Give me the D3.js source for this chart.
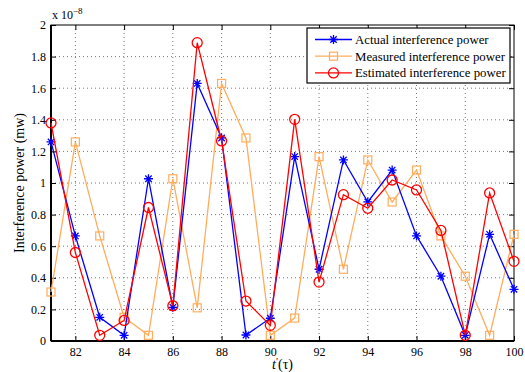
<!DOCTYPE html>
<html>
<head>
<meta charset="utf-8">
<script src="https://cdn.jsdelivr.net/npm/d3@7"></script>
<style>
  body { margin: 0; background: #fff; }
  svg { font-family: "Liberation Serif", "Times New Roman", serif; }
</style>
</head>
<body>
<div id="chart"></div>
<script>
// values in units of 1e-8 mw
const slots = d3.range(81, 101);
const actualPower = [1.26, 0.665, 0.15, 0.036, 1.027, 0.213, 1.63, 1.285, 0.038, 0.144,
  1.167, 0.454, 1.146, 0.88, 1.082, 0.665, 0.41, 0.036, 0.675, 0.327];
const measuredPower = [0.31, 1.26, 0.665, 0.15, 0.036, 1.027, 0.21, 1.63, 1.285, 0.036,
  0.145, 1.167, 0.454, 1.146, 0.88, 1.082, 0.665, 0.41, 0.036, 0.675];
const estimatedPower = [1.38, 0.56, 0.036, 0.13, 0.845, 0.223, 1.888, 1.266, 0.253, 0.099,
  1.403, 0.373, 0.926, 0.84, 1.019, 0.956, 0.70, 0.036, 0.937, 0.504];
const xTicks = [82, 84, 86, 88, 90, 92, 94, 96, 98, 100];
const yTicks = [0, 0.2, 0.4, 0.6, 0.8, 1, 1.2, 1.4, 1.6, 1.8, 2];

const seriesList = [
  { name: "Actual interference power", values: actualPower, color: "#0000ff", marker: "star" },
  { name: "Measured interference power", values: measuredPower, color: "#ffad5c", marker: "square" },
  { name: "Estimated interference power", values: estimatedPower, color: "#ff0000", marker: "circle" }
];

const W = 525, H = 372;
const margin = { top: 25, right: 11, bottom: 31, left: 51 };
const width = W - margin.left - margin.right;
const height = H - margin.top - margin.bottom;

const svg = d3.select("#chart").append("svg")
  .attr("width", W).attr("height", H);
const g = svg.append("g").attr("transform", `translate(${margin.left},${margin.top})`);

const x = d3.scaleLinear().domain([81, 100]).range([0, width]);
const y = d3.scaleLinear().domain([0, 2]).range([height, 0]);

// grid
g.selectAll(".vgrid").data(xTicks.filter(t => t < 100)).join("line")
  .attr("x1", d => x(d)).attr("x2", d => x(d)).attr("y1", 0).attr("y2", height)
  .attr("stroke", "#555").attr("stroke-width", 0.8).attr("stroke-dasharray", "1,3");
g.selectAll(".hgrid").data(yTicks.filter(t => t > 0 && t < 2)).join("line")
  .attr("x1", 0).attr("x2", width).attr("y1", d => y(d)).attr("y2", d => y(d))
  .attr("stroke", "#555").attr("stroke-width", 0.8).attr("stroke-dasharray", "1,3");

// axes with inward ticks
const fmtY = d => d3.format("~g")(d);
const axB = g.append("g").attr("transform", `translate(0,${height})`)
  .call(d3.axisBottom(x).tickValues(xTicks).tickSizeInner(-5).tickSizeOuter(0).tickPadding(6));
const axL = g.append("g")
  .call(d3.axisLeft(y).tickValues(yTicks).tickFormat(fmtY).tickSizeInner(-5).tickSizeOuter(0).tickPadding(5));
g.append("g").call(d3.axisTop(x).tickValues(xTicks).tickSizeInner(-5).tickSizeOuter(0).tickFormat(""));
g.append("g").attr("transform", `translate(${width},0)`)
  .call(d3.axisRight(y).tickValues(yTicks).tickSizeInner(-5).tickSizeOuter(0).tickFormat(""));
g.selectAll(".domain").remove();
g.selectAll(".tick line").attr("stroke", "#000");
[axB, axL].forEach(a => a.selectAll("text")
  .attr("fill", "#000").style("font-size", "12px").style("font-family", "Liberation Serif"));

g.append("rect").attr("width", width).attr("height", height)
  .attr("fill", "none").attr("stroke", "#000").attr("stroke-width", 1);
g.append("line").attr("x1", 0).attr("x2", 0).attr("y1", 0).attr("y2", height)
  .attr("stroke", "#000").attr("stroke-width", 2);
g.append("line").attr("x1", 0).attr("x2", width).attr("y1", height).attr("y2", height)
  .attr("stroke", "#000").attr("stroke-width", 2);

function drawMarker(sel, type, color) {
  if (type === "star") {
    sel.append("path")
      .attr("d", "M-4.5,0L4.5,0M0,-4.5L0,4.5M-3.2,-3.2L3.2,3.2M-3.2,3.2L3.2,-3.2")
      .attr("stroke", color).attr("stroke-width", 1.3).attr("fill", "none");
  } else if (type === "square") {
    sel.append("rect").attr("x", -4).attr("y", -4).attr("width", 8).attr("height", 8)
      .attr("stroke", color).attr("stroke-width", 1.2).attr("fill", "none");
  } else {
    sel.append("circle").attr("r", 5)
      .attr("stroke", color).attr("stroke-width", 1.3).attr("fill", "none");
  }
}

const line = d3.line().x((d, i) => x(slots[i])).y(d => y(d));
const drawOrder = [1, 0, 2];
drawOrder.forEach(k => {
  const s = seriesList[k];
  g.append("path").datum(s.values).attr("d", line)
    .attr("fill", "none").attr("stroke", s.color).attr("stroke-width", 1.3);
  s.values.forEach((v, i) => {
    const m = g.append("g").attr("transform", `translate(${x(slots[i])},${y(v)})`);
    drawMarker(m, s.marker, s.color);
  });
});

// exponent label
const expo = svg.append("text").attr("x", margin.left + 1).attr("y", 19)
  .style("font-size", "12px").attr("fill", "#000");
expo.append("tspan").text("x 10");
expo.append("tspan").attr("dy", -5).style("font-size", "9px").text("−8");

// axis labels
svg.append("text")
  .attr("transform", `translate(24,${margin.top + height / 2}) rotate(-90)`)
  .attr("text-anchor", "middle").style("font-size", "14px").attr("fill", "#000")
  .text("Interference power (mw)");
const xl = svg.append("text").attr("x", margin.left + width / 2).attr("y", 369)
  .attr("text-anchor", "middle").style("font-size", "14px").attr("fill", "#000");
xl.append("tspan").style("font-style", "italic").text("t");
xl.append("tspan").attr("dy", -4).style("font-size", "10px").text("′");
xl.append("tspan").attr("dy", 4).text("(τ)");

// legend
const lg = svg.append("g").attr("transform", "translate(307,28)");
lg.append("rect").attr("width", 203).attr("height", 55)
  .attr("fill", "#fff").attr("stroke", "#000").attr("stroke-width", 1.2);
seriesList.forEach((s, i) => {
  const row = lg.append("g").attr("transform", `translate(0,${11.5 + i * 16.7})`);
  row.append("line").attr("x1", 8).attr("x2", 45).attr("stroke", s.color).attr("stroke-width", 1.3);
  drawMarker(row.append("g").attr("transform", "translate(26.5,0)"), s.marker, s.color);
  row.append("text").attr("x", 48).attr("y", 4.5).style("font-size", "12.8px").attr("fill", "#000")
    .text(s.name);
});
</script>
</body>
</html>
